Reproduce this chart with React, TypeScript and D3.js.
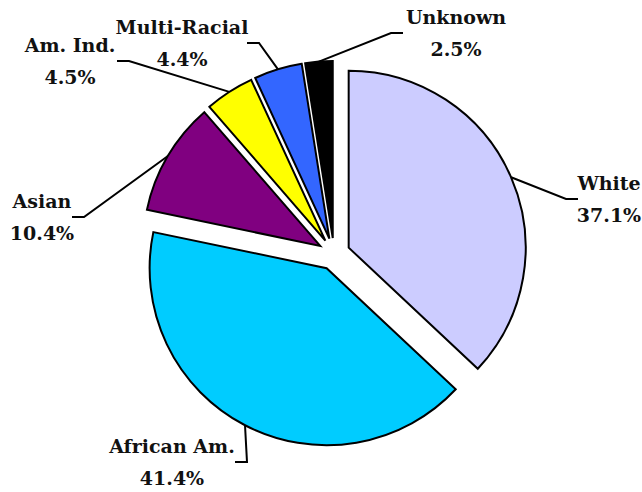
import React from 'react';
import * as d3 from 'd3';

const categories = ['White', 'African Am.', 'Asian', 'Am. Ind.', 'Multi-Racial', 'Unknown'];
const shares = [37.1, 41.4, 10.4, 4.5, 4.4, 2.5];
const colors = ['#CCCCFF', '#00CCFF', '#800080', '#FFFF00', '#3366FF', '#000000'];

// label boxes: center x, middle y, x where the leader line meets the label
const labelLayout = [
  { x: 609, y: 199, end: 578 },
  { x: 172, y: 462, end: 235 },
  { x: 42, y: 217, end: 72 },
  { x: 70, y: 61, end: 117 },
  { x: 182, y: 43, end: 247 },
  { x: 456, y: 33, end: 403 },
];

const width = 642;
const height = 492;
const cx = 334;
const cy = 254;
const radius = 177;
const explode = 16;

export default function App() {
  const pie = d3.pie<number>().sort(null).value(d => d);
  const arcs = pie(shares);
  const arc = d3.arc<d3.PieArcDatum<number>>().innerRadius(0).outerRadius(radius);

  return (
    <svg
      width={width}
      height={height}
      style={{ position: 'absolute', left: 0, top: 0, background: '#fff' }}
    >
      <g transform={`translate(${cx},${cy})`}>
        {arcs.map((a, i) => {
          const mid = (a.startAngle + a.endAngle) / 2;
          const dx = explode * Math.sin(mid);
          const dy = -explode * Math.cos(mid);
          return (
            <path
              key={categories[i]}
              d={arc(a) ?? ''}
              transform={`translate(${dx},${dy})`}
              fill={colors[i]}
              stroke="#000"
              strokeWidth={2}
              strokeLinejoin="miter"
            />
          );
        })}
      </g>
      {arcs.map((a, i) => {
        const mid = (a.startAngle + a.endAngle) / 2;
        const r = explode + radius;
        const sx = cx + r * Math.sin(mid);
        const sy = cy - r * Math.cos(mid);
        const lay = labelLayout[i];
        const elbowX = lay.end + (lay.end < lay.x ? -12 : 12);
        const pts: [number, number][] = [
          [sx, sy],
          [elbowX, lay.y],
          [lay.end, lay.y],
        ];
        return (
          <path
            key={'lead' + i}
            d={d3.line()(pts) ?? ''}
            fill="none"
            stroke="#000"
            strokeWidth={2}
          />
        );
      })}
      {arcs.map((a, i) => {
        const lay = labelLayout[i];
        return (
          <text
            key={'lab' + i}
            textAnchor="middle"
            style={{
              fontFamily: "'DejaVu Serif', serif",
              fontWeight: 700,
              fontSize: '19px',
            }}
            fill="#111"
          >
            <tspan x={lay.x} y={lay.y - 9}>{categories[i]}</tspan>
            <tspan x={lay.x} y={lay.y + 22.5}>{shares[i].toFixed(1)}%</tspan>
          </text>
        );
      })}
    </svg>
  );
}
